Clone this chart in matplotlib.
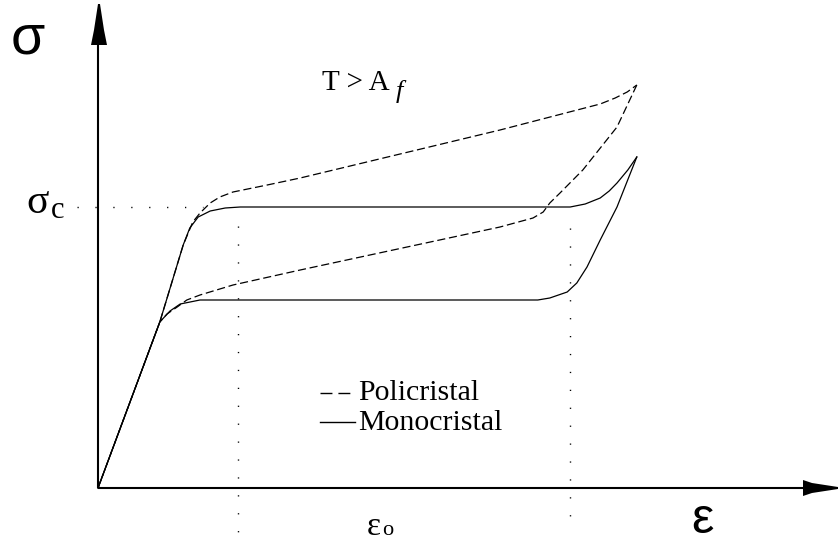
import matplotlib
matplotlib.use("Agg")
import matplotlib.pyplot as plt
from matplotlib.patches import Polygon

# Curvas tensão-deformação (superelasticidade, T > Af)
# deformação em %, tensão em MPa

# Monocristal - carregamento
mono_carga_eps = [0.0, 1.03, 1.42, 1.53, 1.67, 1.87, 2.12, 2.37, 7.87, 8.12, 8.37, 8.52, 8.65, 8.83, 8.98]
mono_carga_sig = [0, 332, 486, 520, 542, 554, 560, 562, 562, 568, 580, 594, 610, 636, 662]

# Monocristal - descarregamento
mono_desc_eps = [8.98, 8.65, 8.37, 8.15, 7.98, 7.82, 7.53, 7.33, 1.70, 1.37, 1.20, 1.03, 0.0]
mono_desc_sig = [662, 562, 496, 442, 410, 392, 380, 376, 376, 368, 354, 332, 0]

# Policristal - carregamento
poli_carga_eps = [0.0, 1.03, 1.42, 1.58, 1.70, 1.87, 2.03, 2.25, 2.82, 3.37, 6.70, 8.37, 8.62, 8.82, 8.98]
poli_carga_sig = [0, 332, 486, 532, 550, 570, 582, 592, 606, 620, 716, 768, 780, 792, 806]

# Policristal - descarregamento
poli_desc_eps = [8.98, 8.65, 8.08, 7.70, 7.53, 7.42, 7.25, 6.70, 3.37, 2.25, 1.70, 1.48, 1.32, 1.15, 1.03, 0.0]
poli_desc_sig = [806, 722, 636, 590, 570, 552, 540, 522, 436, 406, 386, 376, 362, 348, 332, 0]

# Níveis de referência
sigma_c = 562
eps_inicio = 2.33
eps_fim = 7.87

# Escala da figura (px por unidade) e origem dos eixos em px
W, H = 838, 543
X0, Y0 = 98, 488
KX, KY = 60.0, 0.5


def px(x, y):
    # converte posição em px (origem no canto superior esquerdo) para dados
    return (x - X0) / KX, (Y0 - y) / KY


fig = plt.figure(figsize=(W / 100, H / 100), dpi=100)
ax = fig.add_axes([0, 0, 1, 1])
ax.set_xlim(-X0 / KX, (W - X0) / KX)
ax.set_ylim(-(H - Y0) / KY, Y0 / KY)
ax.axis("off")

# Eixos com setas
x_fim, _ = px(W, 0)
_, y_fim = px(0, 4)
ax.plot([0, x_fim - 0.2], [0, 0], color="black", lw=1.5, solid_capstyle="butt")
ax.plot([0, 0], [0, y_fim - 40], color="black", lw=1.5, solid_capstyle="butt")

ax.add_patch(Polygon([px(803, 480), px(803, 496), px(812, 493), px(W, 489),
                      px(W, 487), px(812, 483)], closed=True, color="black", lw=0))
ax.add_patch(Polygon([px(91, 45), px(107, 45), px(104, 30), px(100, 4),
                      px(98, 4), px(94, 30)], closed=True, color="black", lw=0))

# Linhas pontilhadas
pont = dict(color="black", lw=1.0, linestyle=(0, (0.9, 12)))
ax.plot([px(77, 0)[0], px(203, 0)[0]], [sigma_c, sigma_c], **pont)
ax.plot([eps_inicio, eps_inicio], [px(0, 226)[1], px(0, 532)[1]], **pont)
ax.plot([eps_fim, eps_fim], [px(0, 228)[1], px(0, 528)[1]], **pont)

# Curvas
ax.plot(mono_carga_eps, mono_carga_sig, color="black", lw=0.9)
ax.plot(mono_desc_eps, mono_desc_sig, color="black", lw=0.9)
tracejado = dict(color="black", lw=0.9, dashes=(6.5, 3))
ax.plot(poli_carga_eps, poli_carga_sig, **tracejado)
ax.plot(poli_desc_eps, poli_desc_sig, **tracejado)

# Legenda desenhada à mão
ax.plot([px(320, 0)[0], px(353, 0)[0]], [px(0, 393)[1]] * 2, color="black", lw=1.0, dashes=(8.6, 4.3))
ax.plot([px(320, 0)[0], px(355, 0)[0]], [px(0, 422)[1]] * 2, color="black", lw=1.0)
serif = ["Liberation Serif", "DejaVu Serif"]
sans = ["Liberation Sans", "DejaVu Sans"]
ax.text(*px(358, 400), "Policristal", family=serif, fontsize=21.5, va="baseline", ha="left")
ax.text(*px(358, 430), "Monocristal", family=serif, fontsize=21.5, va="baseline", ha="left")

# Rótulos
ax.text(*px(28, 53), "σ", family=sans, fontsize=40, va="baseline", ha="center")
ax.text(*px(702, 533), "ε", family=sans, fontsize=36, va="baseline", ha="center")
ax.text(*px(26, 213), "σ", family=serif, fontsize=30, va="baseline", ha="left")
ax.text(*px(51, 218), "c", family=serif, fontsize=22, va="baseline", ha="left")
ax.text(*px(367, 535), "ε", family=serif, fontsize=24, va="baseline", ha="left")
ax.text(*px(382, 535), "o", family=serif, fontsize=16, va="baseline", ha="left")
ax.text(*px(322, 90), "T > A", family=serif, fontsize=21, va="baseline", ha="left")
ax.text(*px(396, 98), "f", family=serif, fontsize=19, style="italic", va="baseline", ha="left")

fig.savefig("out.png", dpi=100, facecolor="white")
